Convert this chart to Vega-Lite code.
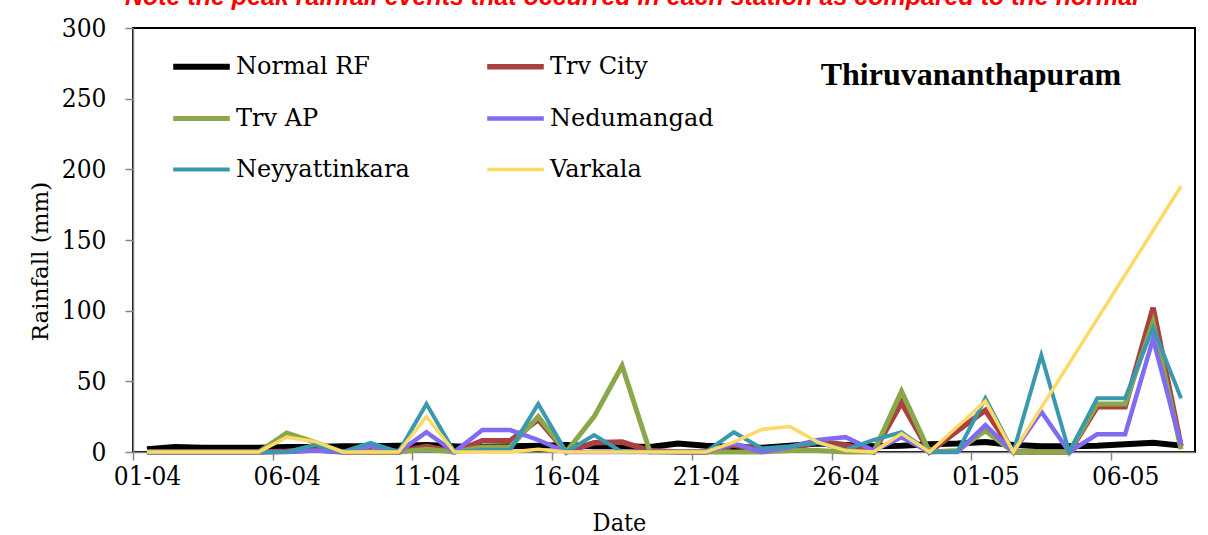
{
  "$schema": "https://vega.github.io/schema/vega-lite/v6.json",
  "autosize": {"type": "none"},
  "padding": {"left": 133, "top": 28, "right": 13, "bottom": 83},
  "width": 1062,
  "height": 424,
  "background": "white",
  "title": {
    "text": "Note the peak rainfall events that occurred in each station as compared to the normal",
    "font": "Liberation Sans", "fontSize": 25, "fontStyle": "italic", "fontWeight": "bold",
    "color": "#FF0000", "anchor": "middle", "dx": -32, "offset": -15, "baseline": "alphabetic", "frame": "group"
  },
  "config": {
    "view": {"stroke": "black", "strokeWidth": 2}
  },
  "layer": [
    {
      "data": {"values": [
        {"d":"01-04","s":"Normal RF","v":2},{"d":"02-04","s":"Normal RF","v":3.5},{"d":"03-04","s":"Normal RF","v":3},{"d":"04-04","s":"Normal RF","v":3},{"d":"05-04","s":"Normal RF","v":3},{"d":"06-04","s":"Normal RF","v":3.5},{"d":"07-04","s":"Normal RF","v":3.5},{"d":"08-04","s":"Normal RF","v":4},{"d":"09-04","s":"Normal RF","v":4},{"d":"10-04","s":"Normal RF","v":4.5},{"d":"11-04","s":"Normal RF","v":5},{"d":"12-04","s":"Normal RF","v":4},{"d":"13-04","s":"Normal RF","v":3.5},{"d":"14-04","s":"Normal RF","v":4},{"d":"15-04","s":"Normal RF","v":4.5},{"d":"16-04","s":"Normal RF","v":5},{"d":"17-04","s":"Normal RF","v":4},{"d":"18-04","s":"Normal RF","v":4},{"d":"19-04","s":"Normal RF","v":3.5},{"d":"20-04","s":"Normal RF","v":6},{"d":"21-04","s":"Normal RF","v":4.5},{"d":"22-04","s":"Normal RF","v":3.5},{"d":"23-04","s":"Normal RF","v":3},{"d":"24-04","s":"Normal RF","v":4.5},{"d":"25-04","s":"Normal RF","v":6},{"d":"26-04","s":"Normal RF","v":5},{"d":"27-04","s":"Normal RF","v":4},{"d":"28-04","s":"Normal RF","v":4.5},{"d":"29-04","s":"Normal RF","v":5.5},{"d":"30-04","s":"Normal RF","v":6},{"d":"01-05","s":"Normal RF","v":7},{"d":"02-05","s":"Normal RF","v":5},{"d":"03-05","s":"Normal RF","v":4},{"d":"04-05","s":"Normal RF","v":4},{"d":"05-05","s":"Normal RF","v":4.5},{"d":"06-05","s":"Normal RF","v":5.5},{"d":"07-05","s":"Normal RF","v":6.5},{"d":"08-05","s":"Normal RF","v":4.5},
        {"d":"01-04","s":"Trv City","v":0},{"d":"02-04","s":"Trv City","v":0},{"d":"03-04","s":"Trv City","v":0},{"d":"04-04","s":"Trv City","v":0},{"d":"05-04","s":"Trv City","v":0},{"d":"06-04","s":"Trv City","v":0.5},{"d":"07-04","s":"Trv City","v":1.5},{"d":"08-04","s":"Trv City","v":0},{"d":"09-04","s":"Trv City","v":0},{"d":"10-04","s":"Trv City","v":0},{"d":"11-04","s":"Trv City","v":4},{"d":"12-04","s":"Trv City","v":0},{"d":"13-04","s":"Trv City","v":8},{"d":"14-04","s":"Trv City","v":8},{"d":"15-04","s":"Trv City","v":23},{"d":"16-04","s":"Trv City","v":0},{"d":"17-04","s":"Trv City","v":6.5},{"d":"18-04","s":"Trv City","v":7},{"d":"19-04","s":"Trv City","v":1},{"d":"20-04","s":"Trv City","v":0},{"d":"21-04","s":"Trv City","v":0},{"d":"22-04","s":"Trv City","v":5},{"d":"23-04","s":"Trv City","v":1.5},{"d":"24-04","s":"Trv City","v":2.5},{"d":"25-04","s":"Trv City","v":7},{"d":"26-04","s":"Trv City","v":5},{"d":"27-04","s":"Trv City","v":0},{"d":"28-04","s":"Trv City","v":35},{"d":"29-04","s":"Trv City","v":0},{"d":"30-04","s":"Trv City","v":15},{"d":"01-05","s":"Trv City","v":29.5},{"d":"02-05","s":"Trv City","v":0},{"d":"03-05","s":"Trv City","v":0},{"d":"04-05","s":"Trv City","v":0},{"d":"05-05","s":"Trv City","v":32},{"d":"06-05","s":"Trv City","v":32},{"d":"07-05","s":"Trv City","v":102},{"d":"08-05","s":"Trv City","v":4},
        {"d":"01-04","s":"Trv AP","v":0},{"d":"02-04","s":"Trv AP","v":0},{"d":"03-04","s":"Trv AP","v":0},{"d":"04-04","s":"Trv AP","v":0},{"d":"05-04","s":"Trv AP","v":0},{"d":"06-04","s":"Trv AP","v":13.5},{"d":"07-04","s":"Trv AP","v":7},{"d":"08-04","s":"Trv AP","v":0},{"d":"09-04","s":"Trv AP","v":0},{"d":"10-04","s":"Trv AP","v":0},{"d":"11-04","s":"Trv AP","v":2},{"d":"12-04","s":"Trv AP","v":0},{"d":"13-04","s":"Trv AP","v":3.5},{"d":"14-04","s":"Trv AP","v":3.5},{"d":"15-04","s":"Trv AP","v":25},{"d":"16-04","s":"Trv AP","v":0},{"d":"17-04","s":"Trv AP","v":25},{"d":"18-04","s":"Trv AP","v":61},{"d":"19-04","s":"Trv AP","v":0},{"d":"20-04","s":"Trv AP","v":0},{"d":"21-04","s":"Trv AP","v":0},{"d":"22-04","s":"Trv AP","v":0},{"d":"23-04","s":"Trv AP","v":0},{"d":"24-04","s":"Trv AP","v":1},{"d":"25-04","s":"Trv AP","v":1},{"d":"26-04","s":"Trv AP","v":0},{"d":"27-04","s":"Trv AP","v":0},{"d":"28-04","s":"Trv AP","v":43},{"d":"29-04","s":"Trv AP","v":0},{"d":"30-04","s":"Trv AP","v":1},{"d":"01-05","s":"Trv AP","v":15},{"d":"02-05","s":"Trv AP","v":0},{"d":"03-05","s":"Trv AP","v":0},{"d":"04-05","s":"Trv AP","v":0},{"d":"05-05","s":"Trv AP","v":34},{"d":"06-05","s":"Trv AP","v":34},{"d":"07-05","s":"Trv AP","v":92},{"d":"08-05","s":"Trv AP","v":2},
        {"d":"01-04","s":"Nedumangad","v":0},{"d":"02-04","s":"Nedumangad","v":0},{"d":"03-04","s":"Nedumangad","v":0},{"d":"04-04","s":"Nedumangad","v":0},{"d":"05-04","s":"Nedumangad","v":0},{"d":"06-04","s":"Nedumangad","v":0},{"d":"07-04","s":"Nedumangad","v":1},{"d":"08-04","s":"Nedumangad","v":0},{"d":"09-04","s":"Nedumangad","v":4},{"d":"10-04","s":"Nedumangad","v":0},{"d":"11-04","s":"Nedumangad","v":14},{"d":"12-04","s":"Nedumangad","v":0},{"d":"13-04","s":"Nedumangad","v":15.5},{"d":"14-04","s":"Nedumangad","v":15.5},{"d":"15-04","s":"Nedumangad","v":8.5},{"d":"16-04","s":"Nedumangad","v":0},{"d":"17-04","s":"Nedumangad","v":0},{"d":"18-04","s":"Nedumangad","v":0},{"d":"19-04","s":"Nedumangad","v":0},{"d":"20-04","s":"Nedumangad","v":0},{"d":"21-04","s":"Nedumangad","v":0},{"d":"22-04","s":"Nedumangad","v":6},{"d":"23-04","s":"Nedumangad","v":0},{"d":"24-04","s":"Nedumangad","v":3.5},{"d":"25-04","s":"Nedumangad","v":8.5},{"d":"26-04","s":"Nedumangad","v":10.5},{"d":"27-04","s":"Nedumangad","v":1},{"d":"28-04","s":"Nedumangad","v":10.5},{"d":"29-04","s":"Nedumangad","v":0},{"d":"30-04","s":"Nedumangad","v":0},{"d":"01-05","s":"Nedumangad","v":19},{"d":"02-05","s":"Nedumangad","v":0},{"d":"03-05","s":"Nedumangad","v":28.5},{"d":"04-05","s":"Nedumangad","v":0},{"d":"05-05","s":"Nedumangad","v":12.5},{"d":"06-05","s":"Nedumangad","v":12.5},{"d":"07-05","s":"Nedumangad","v":80},{"d":"08-05","s":"Nedumangad","v":5},
        {"d":"01-04","s":"Neyyattinkara","v":0},{"d":"02-04","s":"Neyyattinkara","v":0},{"d":"03-04","s":"Neyyattinkara","v":0},{"d":"04-04","s":"Neyyattinkara","v":0},{"d":"05-04","s":"Neyyattinkara","v":0},{"d":"06-04","s":"Neyyattinkara","v":0},{"d":"07-04","s":"Neyyattinkara","v":5},{"d":"08-04","s":"Neyyattinkara","v":0},{"d":"09-04","s":"Neyyattinkara","v":6.5},{"d":"10-04","s":"Neyyattinkara","v":0},{"d":"11-04","s":"Neyyattinkara","v":34},{"d":"12-04","s":"Neyyattinkara","v":0},{"d":"13-04","s":"Neyyattinkara","v":1.5},{"d":"14-04","s":"Neyyattinkara","v":1.5},{"d":"15-04","s":"Neyyattinkara","v":34},{"d":"16-04","s":"Neyyattinkara","v":0},{"d":"17-04","s":"Neyyattinkara","v":12},{"d":"18-04","s":"Neyyattinkara","v":0},{"d":"19-04","s":"Neyyattinkara","v":0},{"d":"20-04","s":"Neyyattinkara","v":0},{"d":"21-04","s":"Neyyattinkara","v":0},{"d":"22-04","s":"Neyyattinkara","v":14},{"d":"23-04","s":"Neyyattinkara","v":2.5},{"d":"24-04","s":"Neyyattinkara","v":4},{"d":"25-04","s":"Neyyattinkara","v":6.5},{"d":"26-04","s":"Neyyattinkara","v":1.5},{"d":"27-04","s":"Neyyattinkara","v":8.5},{"d":"28-04","s":"Neyyattinkara","v":14},{"d":"29-04","s":"Neyyattinkara","v":0},{"d":"30-04","s":"Neyyattinkara","v":0},{"d":"01-05","s":"Neyyattinkara","v":38},{"d":"02-05","s":"Neyyattinkara","v":0},{"d":"03-05","s":"Neyyattinkara","v":68.5},{"d":"04-05","s":"Neyyattinkara","v":0},{"d":"05-05","s":"Neyyattinkara","v":38},{"d":"06-05","s":"Neyyattinkara","v":38},{"d":"07-05","s":"Neyyattinkara","v":88},{"d":"08-05","s":"Neyyattinkara","v":38},
        {"d":"01-04","s":"Varkala","v":0},{"d":"02-04","s":"Varkala","v":0},{"d":"03-04","s":"Varkala","v":0},{"d":"04-04","s":"Varkala","v":0},{"d":"05-04","s":"Varkala","v":0},{"d":"06-04","s":"Varkala","v":10.5},{"d":"07-04","s":"Varkala","v":7.5},{"d":"08-04","s":"Varkala","v":0},{"d":"09-04","s":"Varkala","v":0},{"d":"10-04","s":"Varkala","v":0},{"d":"11-04","s":"Varkala","v":25},{"d":"12-04","s":"Varkala","v":0},{"d":"13-04","s":"Varkala","v":0},{"d":"14-04","s":"Varkala","v":0},{"d":"15-04","s":"Varkala","v":2},{"d":"16-04","s":"Varkala","v":0},{"d":"17-04","s":"Varkala","v":0},{"d":"18-04","s":"Varkala","v":0},{"d":"19-04","s":"Varkala","v":0},{"d":"20-04","s":"Varkala","v":0},{"d":"21-04","s":"Varkala","v":0},{"d":"22-04","s":"Varkala","v":7},{"d":"23-04","s":"Varkala","v":16},{"d":"24-04","s":"Varkala","v":18},{"d":"25-04","s":"Varkala","v":7},{"d":"26-04","s":"Varkala","v":1},{"d":"27-04","s":"Varkala","v":0},{"d":"28-04","s":"Varkala","v":13},{"d":"29-04","s":"Varkala","v":0},{"d":"30-04","s":"Varkala","v":18},{"d":"01-05","s":"Varkala","v":36},{"d":"02-05","s":"Varkala","v":0},{"d":"08-05","s":"Varkala","v":188}
      ]},
      "mark": {"type": "line"},
      "encoding": {
        "x": {
          "field": "d", "type": "ordinal", "sort": null,
          "scale": {"type": "point", "padding": 0.5, "domain": ["01-04","02-04","03-04","04-04","05-04","06-04","07-04","08-04","09-04","10-04","11-04","12-04","13-04","14-04","15-04","16-04","17-04","18-04","19-04","20-04","21-04","22-04","23-04","24-04","25-04","26-04","27-04","28-04","29-04","30-04","01-05","02-05","03-05","04-05","05-05","06-05","07-05","08-05"]},
          "axis": {
            "values": ["01-04","06-04","11-04","16-04","21-04","26-04","01-05","06-05"],
            "title": "Date", "titleX": 486, "titleY": 78, "titleBaseline": "alphabetic", "titleAlign": "center",
            "titleFont": "DejaVu Serif Condensed", "titleFontSize": 25, "titleFontWeight": "normal", "titleColor": "black",
            "labelFont": "DejaVu Serif Condensed", "labelFontSize": 26, "labelColor": "black", "labelAngle": 0,
            "labelPadding": 3, "labelOverlap": false,
            "tickOffset": -14, "labelOffset": 14,
            "domainColor": "#868686", "domainWidth": 1.5, "tickColor": "#868686", "tickWidth": 1.5, "tickSize": 8,
            "grid": false
          }
        },
        "y": {
          "field": "v", "type": "quantitative",
          "scale": {"domain": [0, 300], "nice": false},
          "axis": {
            "values": [0, 50, 100, 150, 200, 250, 300],
            "title": "Rainfall (mm)", "titleX": -93, "titleY": 233, "titleAngle": -90, "titleBaseline": "middle", "titleAlign": "center",
            "titleFont": "DejaVu Serif", "titleFontSize": 23, "titleFontWeight": "normal", "titleColor": "black",
            "labelFont": "DejaVu Serif Condensed", "labelFontSize": 26, "labelColor": "black", "labelPadding": 19,
            "labelOverlap": false, "labelFlush": false,
            "domainColor": "#868686", "domainWidth": 1.5, "tickColor": "#868686", "tickWidth": 1.5, "tickSize": 8,
            "grid": false
          }
        },
        "color": {
          "field": "s", "type": "nominal",
          "scale": {
            "domain": ["Normal RF", "Trv City", "Trv AP", "Nedumangad", "Neyyattinkara", "Varkala"],
            "range": ["#000000", "#A8413F", "#8AA84A", "#7F6CF0", "#3A98AF", "#FFD966"]
          },
          "legend": {
            "title": null, "orient": "none", "legendX": 37, "legendY": 7,
            "direction": "horizontal", "columns": 2, "columnPadding": 66, "rowPadding": 8.5,
            "symbolType": "stroke", "symbolSize": 3200,
            "labelFont": "DejaVu Serif", "labelFontSize": 24, "labelColor": "black", "labelOffset": 3, "labelLimit": 0
          }
        },
        "strokeWidth": {
          "field": "s", "type": "nominal",
          "scale": {
            "domain": ["Normal RF", "Trv City", "Trv AP", "Nedumangad", "Neyyattinkara", "Varkala"],
            "range": [6, 3.5, 3.5, 3.5, 3.5, 3.5]
          },
          "legend": {
            "title": null, "orient": "none", "legendX": 37, "legendY": 7,
            "direction": "horizontal", "columns": 2, "columnPadding": 66, "rowPadding": 8.5,
            "symbolType": "stroke", "symbolSize": 3200,
            "labelFont": "DejaVu Serif", "labelFontSize": 24, "labelColor": "black", "labelOffset": 3, "labelLimit": 0
          }
        }
      }
    },
    {
      "data": {"values": [{"label": "Thiruvananthapuram"}]},
      "mark": {"type": "text", "font": "Liberation Serif", "fontSize": 32, "fontWeight": "bold", "align": "left", "baseline": "alphabetic", "dx": 3, "color": "black"},
      "encoding": {
        "x": {"datum": "25-04", "type": "ordinal"},
        "y": {"datum": 260, "type": "quantitative"},
        "text": {"field": "label", "type": "nominal"}
      }
    }
  ]
}
